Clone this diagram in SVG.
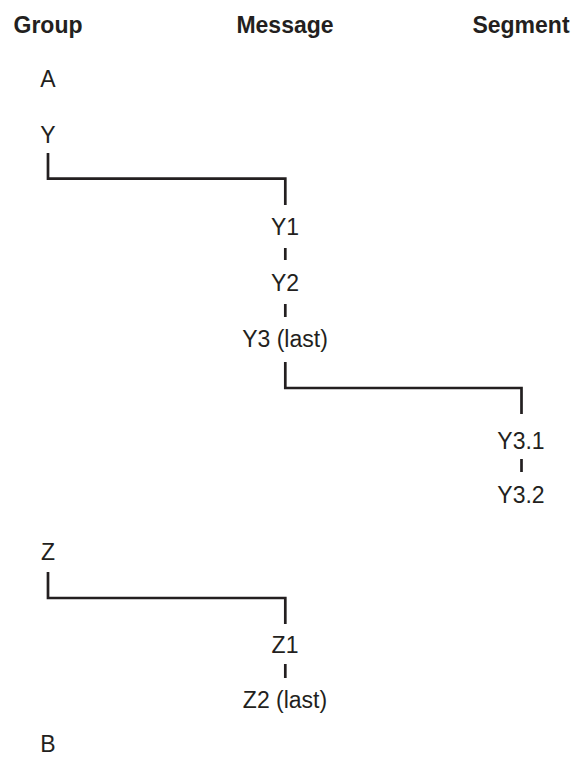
<svg xmlns="http://www.w3.org/2000/svg" width="574" height="758" viewBox="0 0 574 758">
<style>
text{font-family:"Liberation Sans",Arial,Helvetica,sans-serif;fill:#231f20;text-anchor:middle}
.h{font-size:23px;font-weight:bold}
.t{font-size:23px}
.c{fill:none;stroke:#231f20;stroke-width:2.7;stroke-linecap:butt;stroke-linejoin:miter}
</style>
<rect width="574" height="758" fill="#fff"/>
<g id="headers">
<text class="h" x="48" y="33">Group</text>
<text class="h" x="285" y="33">Message</text>
<text class="h" x="521" y="33">Segment</text>
</g>
<g id="connectors">
<path class="c" d="M48,153 V178.7 H285.3 V205"/>
<path class="c" d="M285.3,248 V260"/>
<path class="c" d="M285.3,304 V317"/>
<path class="c" d="M285.3,362 V388 H521.5 V414"/>
<path class="c" d="M521.5,459 V472"/>
<path class="c" d="M48,572 V598 H285.3 V624"/>
<path class="c" d="M285.3,664 V678"/>
</g>
<g id="node-A"><text class="t" x="48" y="87">A</text></g>
<g id="node-Y"><text class="t" x="48" y="143">Y</text></g>
<g id="node-Y1"><text class="t" x="285" y="235">Y1</text></g>
<g id="node-Y2"><text class="t" x="285" y="291">Y2</text></g>
<g id="node-Y3"><text class="t" x="285" y="347">Y3 (last)</text></g>
<g id="node-Y3-1"><text class="t" x="521" y="449">Y3.1</text></g>
<g id="node-Y3-2"><text class="t" x="521" y="503">Y3.2</text></g>
<g id="node-Z"><text class="t" x="48" y="560">Z</text></g>
<g id="node-Z1"><text class="t" x="285" y="653">Z1</text></g>
<g id="node-Z2"><text class="t" x="285" y="708">Z2 (last)</text></g>
<g id="node-B"><text class="t" x="48" y="752">B</text></g>
</svg>
